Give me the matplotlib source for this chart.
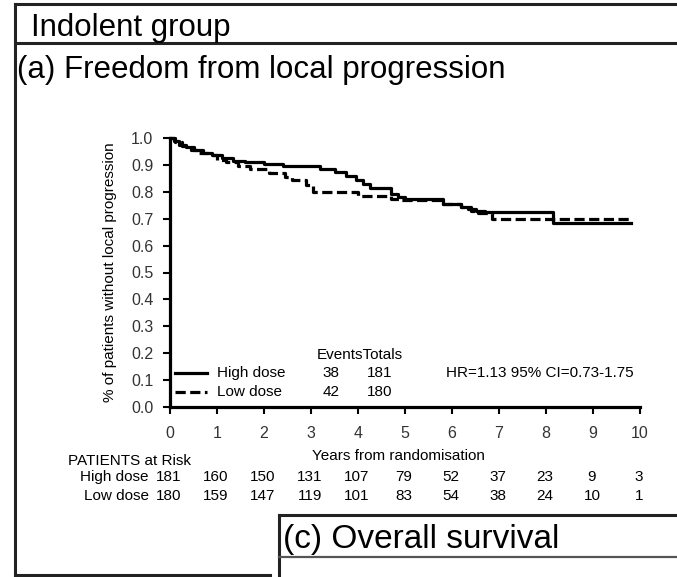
import numpy as np
import matplotlib.pyplot as plt
from matplotlib.lines import Line2D

plt.rcParams['font.family'] = ['Liberation Sans', 'DejaVu Sans']

# Kaplan-Meier steps, freedom from local progression
high_t = [0, 0.08, 0.2, 0.35, 0.5, 0.7, 0.9, 1.1, 1.35, 1.6, 2.0, 2.4, 3.2, 3.5,
          3.75, 3.95, 4.1, 4.25, 4.7, 4.85, 5.0, 5.8, 6.2, 6.35, 6.5, 6.7, 8.15, 9.8]
high_s = [1.0, 0.99, 0.975, 0.965, 0.955, 0.945, 0.935, 0.925, 0.915, 0.91, 0.905,
          0.895, 0.885, 0.875, 0.86, 0.845, 0.83, 0.815, 0.79, 0.78, 0.775, 0.755,
          0.745, 0.735, 0.73, 0.725, 0.685, 0.685]
low_t = [0, 0.1, 0.25, 0.45, 0.6, 0.8, 1.0, 1.2, 1.45, 1.7, 2.1, 2.45, 2.6, 2.9,
         3.05, 4.0, 4.7, 4.9, 5.8, 6.2, 6.4, 6.55, 6.85, 9.8]
low_s = [1.0, 0.985, 0.97, 0.955, 0.945, 0.935, 0.92, 0.91, 0.895, 0.885, 0.87,
         0.855, 0.845, 0.825, 0.80, 0.785, 0.775, 0.77, 0.755, 0.745, 0.73, 0.72,
         0.70, 0.70]

groups = ['High dose', 'Low dose']
events = [38, 42]
totals = [181, 180]
years = list(range(11))
risk_high = [181, 160, 150, 131, 107, 79, 52, 37, 23, 9, 3]
risk_low = [180, 159, 147, 119, 101, 83, 54, 38, 24, 10, 1]
hr_text = 'HR=1.13 95% CI=0.73-1.75'

W, H = 677, 577
fig = plt.figure(figsize=(W / 100, H / 100), dpi=100)

def fx(px):
    return px / W

def fy(py):
    return 1 - py / H

# panel frame lines
frame = dict(color='#222222', lw=2.2, transform=fig.transFigure)
fig.add_artist(Line2D([fx(15), 1], [fy(4), fy(4)], **frame))
fig.add_artist(Line2D([fx(15), 1], [fy(43), fy(43)], **frame))
fig.add_artist(Line2D([fx(15), fx(15)], [fy(4), fy(575)], **frame))
fig.add_artist(Line2D([fx(15), fx(270)], [fy(575), fy(575)], **frame))
fig.add_artist(Line2D([fx(279), fx(279)], [fy(515), 0], **frame))
fig.add_artist(Line2D([fx(279), 1], [fy(515), fy(515)], **frame))
fig.add_artist(Line2D([fx(279), 1], [fy(557), fy(557)], lw=1.6, color='#555555',
                      transform=fig.transFigure))

fig.text(fx(31), fy(36), 'Indolent group', fontsize=22.5, va='baseline', ha='left')
fig.text(fx(17), fy(78), '(a) Freedom from local progression', fontsize=22.5,
         va='baseline', ha='left')
fig.text(fx(283), fy(548), '(c) Overall survival', fontsize=24, va='baseline',
         ha='left')

ax = fig.add_axes([fx(170), fy(407), fx(640) - fx(170), fy(138) - fy(407)])
dash = (0, (3.2, 1.4))
ax.step(high_t, high_s, where='post', color='black', lw=2.3, clip_on=False)
ax.step(low_t, low_s, where='post', color='black', lw=2.3, ls=dash, clip_on=False)

ax.set_xlim(0, 10)
ax.set_ylim(0, 1.0)
ax.set_xticks(years)
ax.set_yticks(np.arange(0, 1.01, 0.1))
ax.set_yticklabels(['%.1f' % v for v in np.arange(0, 1.01, 0.1)])
for s in ['top', 'right']:
    ax.spines[s].set_visible(False)
for s in ['left', 'bottom']:
    ax.spines[s].set_linewidth(2.3)
ax.tick_params(axis='both', direction='out', length=5, width=1.5, labelsize=11.5,
               labelcolor='#333333')
ax.tick_params(axis='x', pad=9)
ax.tick_params(axis='y', pad=7)
ax.set_ylabel('% of patients without local progression', fontsize=11, labelpad=10)

# legend with event counts
ax.text(4.03, 0.193, 'EventsTotals', fontsize=11, ha='center', va='center')
for i, ls in enumerate(['-', dash]):
    y = 0.126 - i * 0.07
    ax.plot([0.1, 0.79], [y, y], color='black', lw=2.3, ls=ls)
    ax.text(1.0, y, groups[i], fontsize=11, ha='left', va='center')
    ax.text(3.43, y, str(events[i]), fontsize=11, ha='center', va='center')
    ax.text(4.47, y, str(totals[i]), fontsize=11, ha='center', va='center')
ax.text(5.87, 0.126, hr_text, fontsize=11, ha='left', va='center')

# numbers at risk below the axis
fig.text(fx(312), fy(456), 'Years from randomisation', fontsize=11, ha='left',
         va='center')
fig.text(fx(68), fy(461), 'PATIENTS at Risk', fontsize=11, ha='left', va='center')
for row, (name, counts) in enumerate([(groups[0], risk_high), (groups[1], risk_low)]):
    ypix = 477 + row * 19
    fig.text(fx(149), fy(ypix), name, fontsize=11, ha='right', va='center')
    for yr, n in zip(years, counts):
        xpix = ax.transData.transform((yr, 0))[0]
        fig.text(fx(xpix - 1), fy(ypix), str(n), fontsize=11, ha='center', va='center')

fig.savefig('out.png', dpi=100)
